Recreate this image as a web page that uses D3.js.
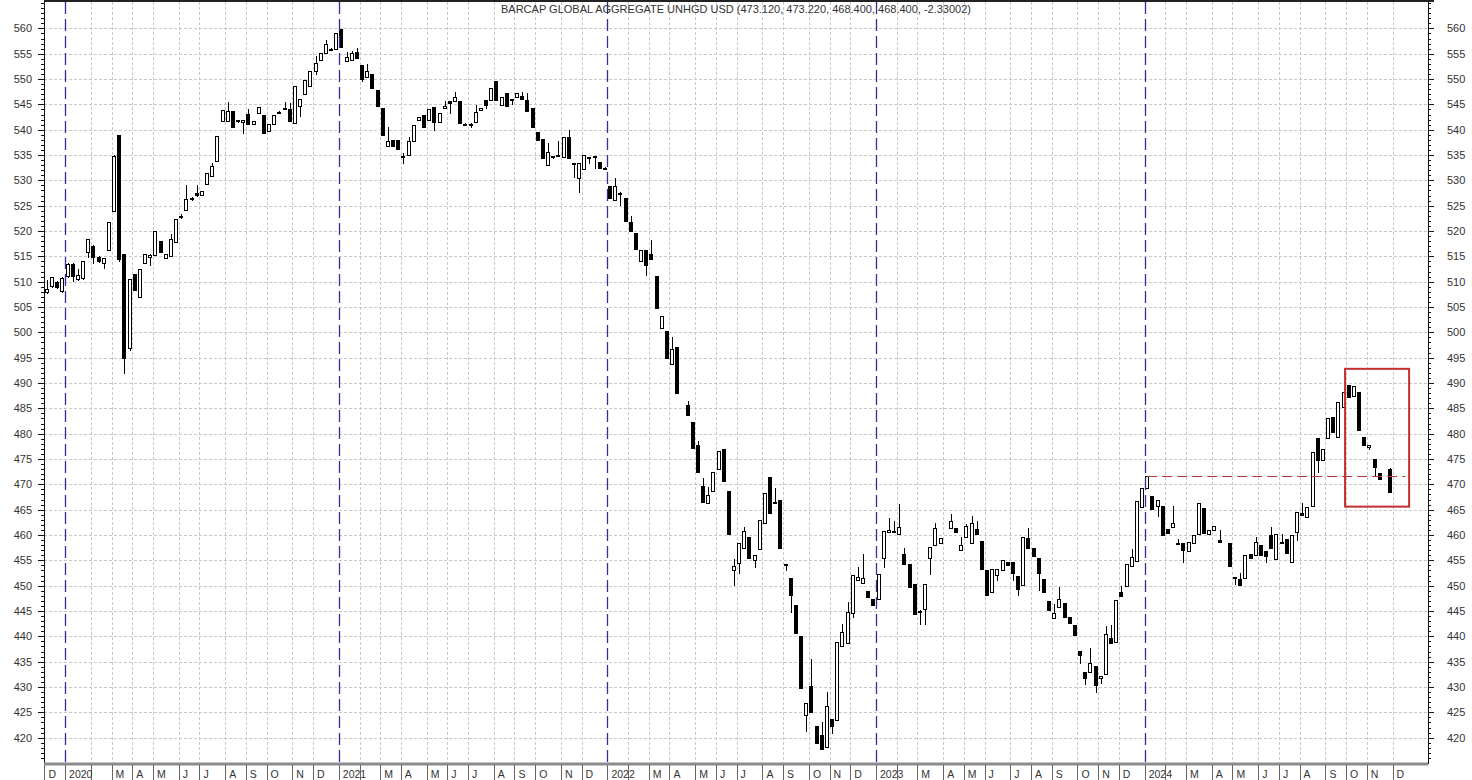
<!DOCTYPE html>
<html>
<head>
<meta charset="utf-8">
<title>Barcap Global Aggregate Unhgd USD - weekly</title>
<script src="https://cdnjs.cloudflare.com/ajax/libs/d3/7.8.5/d3.min.js"></script>
<style>
    body { margin: 0; background: #fff; }
    svg { display: block; font-family: Arial, "Liberation Sans", sans-serif; }
    .grid line { stroke: #c9c9c9; stroke-dasharray: 3,2; shape-rendering: crispEdges; }
    .year line { stroke: #2e2e9c; stroke-width: 1.3; stroke-dasharray: 12,5; }
    .axis text { font-size: 11px; fill: #333; }
    .axis path, .axis line { stroke: #111; shape-rendering: crispEdges; }
    .months text { font-size: 10.5px; fill: #333; }
    .months line { stroke: #666; shape-rendering: crispEdges; }
    .candle line { stroke: #000; shape-rendering: crispEdges; }
    .candle rect { stroke: #000; shape-rendering: crispEdges; }
</style>
</head>
<body>
<script>
    var title = "BARCAP GLOBAL AGGREGATE UNHGD USD (473.120, 473.220, 468.400, 468.400, -2.33002)";

    // weekly bars, [open, high, low, close]; null = no bar that week
    var firstWeek = new Date(2019, 11, 2);

    var ohlc2020 = [ // Dec 2019 - Dec 2020
        [507.9,510.4,507.8,508.6],[509.2,511.0,509.0,510.9],[510.0,510.2,508.8,508.9],[508.2,511.0,508.0,510.7],
        [511.1,513.6,511.0,513.5],[513.4,513.6,510.2,511.1],[510.5,512.5,510.3,511.3],[510.7,514.0,510.5,514.0],
        [515.9,518.5,514.8,518.4],[517.1,517.3,513.7,514.9],[514.9,515.0,513.8,514.1],[513.6,514.7,512.8,514.6],
        [516.3,521.7,516.3,521.7],[524.0,535.0,524.0,534.8],[539.0,539.0,514.0,514.4],[515.5,515.5,491.9,494.9],
        [497.0,510.5,496.5,510.5],[511.5,511.5,508.4,508.4],[507.0,512.6,507.0,512.6],[513.6,515.4,513.6,515.4],
        [514.8,515.4,513.3,515.3],[515.3,520.0,515.3,520.0],[518.1,518.1,515.9,515.9],[514.6,515.4,514.6,515.4],
        [515.1,519.4,515.1,518.4],[517.9,522.4,517.9,522.4],[522.9,523.3,522.5,522.7],[524.1,529.0,524.1,526.3],
        [526.6,526.8,526.1,526.3],[527.5,529.1,527.0,527.2],[527.2,527.9,527.2,527.9],[529.2,531.4,529.2,531.4],
        [530.9,533.5,530.9,532.8],[533.9,538.8,533.9,538.8],[541.8,543.9,541.8,543.9],[541.8,545.4,541.8,543.6],
        [543.6,543.6,540.5,540.5],[541.9,542.0,541.6,541.7],[541.6,541.9,539.3,541.9],[543.1,544.0,541.1,541.1],
        [541.1,541.8,541.1,541.8],[543.2,544.5,543.2,544.5],[542.9,542.9,539.3,539.3],[539.8,541.1,539.8,541.1],
        [541.1,543.0,541.1,543.0],[543.3,543.6,543.2,543.5],[544.1,545.5,544.0,544.3],[544.0,545.2,541.8,541.8],
        [541.4,548.7,541.4,548.7],[544.7,546.1,542.8,546.1],[547.0,549.9,547.0,549.9],[548.6,551.6,548.6,551.6],
        [551.6,554.5,551.0,553.2],[553.8,555.1,553.8,555.1],[555.2,557.7,555.2,556.9],[555.9,556.1,555.8,556.0],
        [555.9,559.0,555.9,559.0]
    ];

    var ohlc2021 = [
        [559.8,559.8,556.4,556.4],[553.5,555.3,553.5,554.4],[553.8,555.6,553.8,555.1],[555.3,556.1,554.1,554.1],
        [552.7,552.7,549.6,550.0],[550.5,553.0,550.5,551.6],[550.9,550.9,548.2,548.2],[547.9,547.9,544.6,544.6],
        [544.2,544.2,539.0,539.0],[536.7,540.6,536.7,537.8],[538.0,538.0,536.8,536.8],[538.0,538.0,536.2,536.2],
        [534.8,535.4,533.4,534.6],[535.0,538.6,535.0,537.7],[537.7,541.0,537.7,541.0],[542.0,542.6,542.0,542.6],
        [542.9,542.9,540.6,540.6],[542.0,544.1,542.0,544.1],[544.5,544.5,540.0,541.6],[541.6,543.3,541.6,543.3],
        [544.3,545.6,544.3,544.7],[545.7,545.7,543.3,545.2],[545.6,547.5,545.6,546.5],[545.7,545.7,541.3,541.3],
        [541.2,541.3,541.0,541.0],[541.0,541.3,540.6,541.2],[541.6,544.9,541.6,543.4],[543.8,544.3,543.8,544.3],
        [545.9,545.9,544.3,544.9],[545.9,548.2,545.9,548.2],[549.6,549.6,545.9,545.9],[544.9,546.4,544.9,546.4],
        [547.2,547.2,544.7,544.7],[545.9,546.0,545.0,546.0],[546.4,547.2,546.4,547.2],[546.7,547.5,546.0,546.0],
        [545.9,547.2,543.6,543.6],[544.2,544.2,540.5,540.5],[539.6,539.6,538.0,538.0],[538.1,538.1,534.4,534.4],
        [533.1,537.3,533.1,535.5],[534.6,534.9,534.5,534.8],[535.0,537.7,535.0,535.1],[534.7,538.5,534.7,538.5],
        [538.6,540.0,534.4,534.4],[533.3,533.5,530.6,533.5],[530.4,533.4,527.8,533.4],[532.2,535.0,532.2,535.0],
        [534.4,534.6,533.5,534.6],[534.8,534.8,532.4,534.7],[533.7,533.7,532.4,532.4],[532.5,532.6,532.3,532.3]
    ];

    var ohlc2022 = [
        [528.8,528.8,526.5,526.5],[526.1,530.4,526.1,528.8],[527.6,527.7,525.2,527.4],[526.5,526.5,521.9,521.9],
        [521.7,523.0,520.1,520.1],[519.7,519.7,516.4,516.4],[514.0,516.3,514.0,516.3],[516.3,516.3,511.3,513.3],
        [515.4,518.2,514.4,514.4],[511.2,511.2,504.8,504.8],[500.8,503.3,500.8,503.3],[500.2,500.2,494.9,494.9],
        [493.8,499.0,493.8,496.7],[497.2,497.2,488.1,488.1],null,[485.7,486.5,483.7,483.7],
        [482.3,482.3,477.1,477.1],[477.7,478.5,472.5,472.5],[469.7,471.2,466.6,466.6],[466.3,469.5,466.3,467.9],
        [468.7,472.5,468.7,472.5],[473.0,476.6,473.0,476.6],[476.9,476.9,470.7,470.7],[468.6,468.6,460.2,460.2],
        [453.0,455.2,450.2,453.8],[454.4,458.4,452.5,458.4],[457.4,461.5,457.4,460.7],[459.7,459.7,455.4,455.4],
        [455.1,456.1,453.6,456.1],[457.2,463.0,457.2,463.0],[462.3,468.3,462.3,468.3],[471.4,471.5,464.3,464.3],
        [466.5,469.3,466.3,466.3],[466.9,466.9,457.4,457.4],[454.2,454.3,453.0,454.0],[451.5,451.5,444.9,448.2],
        [446.1,446.1,440.6,440.6],[440.1,440.1,429.8,429.8],[424.5,426.8,421.3,426.8],[430.1,435.5,425.0,425.0],
        [422.4,422.4,419.0,419.0],[420.6,423.0,417.7,417.7],[418.2,429.0,418.2,426.3],[423.7,423.7,420.9,422.4],
        [423.4,438.8,423.4,438.8],[438.1,442.5,438.1,440.9],[438.6,446.7,438.6,444.9],[444.6,452.1,443.8,452.1],
        [451.1,453.7,451.1,451.8],[450.6,456.3,450.6,451.5],[449.0,449.0,447.7,447.7],[447.3,447.3,446.1,446.1]
    ];

    var ohlc2023 = [
        [447.3,452.3,447.3,452.3],[455.4,460.8,453.6,460.8],[460.5,463.4,460.5,460.9],[460.6,462.8,460.6,460.8],
        [460.2,466.2,460.2,461.5],[456.3,457.4,454.2,454.2],[454.2,454.2,449.8,449.8],[450.4,450.4,444.4,444.4],
        [445.0,445.2,442.4,444.8],[445.4,450.3,442.5,450.3],[455.4,457.7,452.4,457.7],[458.1,462.4,458.1,461.3],
        [458.4,459.4,458.4,459.4],null,[461.4,464.1,461.4,462.7],[461.4,461.4,460.5,460.5],
        [457.1,459.6,457.1,458.1],[459.7,462.2,459.7,461.7],[458.4,463.8,458.4,462.3],[461.2,462.7,460.2,460.2],
        [458.9,458.9,453.3,453.3],[453.0,453.0,448.2,448.2],[448.8,453.3,448.8,453.3],[452.1,453.3,451.2,453.3],
        [453.1,455.0,453.1,455.0],[454.6,454.6,454.1,454.1],[454.6,454.6,451.1,452.5],[452.0,452.0,448.1,449.3],
        [450.2,459.6,450.2,459.6],[459.4,461.4,457.4,457.4],[457.4,457.4,455.9,455.9],[455.4,455.4,449.2,452.5],
        [451.3,451.3,448.8,448.8],[446.9,446.9,445.2,445.2],[443.6,446.4,443.6,444.7],[445.7,449.7,445.7,447.4],
        [446.5,446.5,443.9,443.9],[443.9,443.9,442.7,442.7],[442.3,442.3,440.3,440.3],[437.2,437.2,434.7,436.3],
        [432.9,432.9,430.6,431.7],[433.0,437.6,433.0,434.7],[434.2,434.2,429.1,430.4],[431.7,432.2,430.7,432.2],
        [432.6,442.1,432.6,440.5],[439.6,442.2,438.6,438.6],[438.8,447.1,438.8,447.1],[448.7,449.9,448.0,448.0],
        [449.9,454.3,449.9,454.3],[453.9,457.3,453.9,455.7],[454.8,466.8,454.8,466.8],[465.6,469.2,465.6,469.2]
    ];

    var ohlc2024 = [
        [469.2,471.7,469.2,471.7],[467.7,467.7,465.1,465.1],[465.8,466.9,463.8,466.9],[465.8,465.8,460.0,460.0],
        [461.1,461.1,460.3,460.3],[461.5,465.8,461.5,462.3],[458.5,459.3,458.3,458.3],[458.5,458.5,454.6,457.1],
        [456.9,458.7,456.9,458.7],[458.4,460.1,458.4,460.1],[460.2,466.3,460.2,466.3],[465.3,465.3,460.3,460.3],
        [460.2,461.0,460.2,461.0],[460.9,461.8,460.9,461.8],[459.0,461.0,458.7,458.7],null,
        [458.5,458.5,453.9,453.9],[451.7,451.8,450.3,451.6],[451.3,452.5,450.2,450.2],[451.6,456.1,451.6,456.1],
        [456.3,456.3,455.4,455.4],[456.1,459.6,456.1,458.7],[458.0,458.0,456.1,456.1],[456.9,456.9,454.7,455.9],
        [460.0,461.6,457.4,457.4],[455.2,460.2,455.2,460.2],[458.7,460.2,458.5,458.5],[459.2,459.2,456.5,456.5],
        [454.6,460.0,454.6,460.0],[460.5,464.6,459.1,464.6],[464.4,466.3,464.0,464.0],[463.6,465.5,463.6,465.5],
        [465.8,476.3,465.8,476.3],[479.1,479.1,472.4,474.9],[474.9,477.0,474.9,477.0],[479.1,483.0,479.1,483.0],
        [483.2,483.2,480.4,480.4],[479.4,486.3,479.4,486.3],[485.2,488.3,485.2,488.3],[489.6,489.6,487.2,487.2],
        [487.4,489.4,487.4,489.4],[488.3,488.3,480.7,480.7],[479.3,479.3,477.8,477.8],[477.3,477.8,476.9,477.8],
        [475.0,475.0,471.7,473.4],[472.2,472.2,471.0,471.0],null,[473.12,473.22,468.4,468.4]
    ];

    var yTicks = d3.range(420, 561, 5);
    var monthLetters = ["J", "F", "M", "A", "M", "J", "J", "A", "S", "O", "N", "D"];

    // annotations, in bar index / price units
    var refBar = 213, refEnd = 263;          // dashed level from the first 2024 bar's close
    var boxSpan = [251.3, 263.7], boxRange = [465.6, 492.8];

    var width = 1472, height = 780,
        left = 44, right = 1428, plotBottom = 763;

    var bars = [].concat(ohlc2020, ohlc2021, ohlc2022, ohlc2023, ohlc2024).map(function(d, i){
        var b = {i: i, date: d3.timeMonday.offset(firstWeek, i)};
        if (d) { b.o = d[0]; b.h = d[1]; b.l = d[2]; b.c = d[3]; }
        return b;
    });

    var x = d3.scaleLinear().domain([0, bars.length - 1]).range([47, 1390]),
        y = d3.scaleLinear().domain([415, 565.6]).range([plotBottom, 0]),
        step = x(1) - x(0);

    // month boundaries: the week holding the month's first trading day
    var months = d3.timeMonth.range(new Date(2019, 11, 1), new Date(2025, 0, 1)).map(function(m){
        var d = new Date(m);
        while (d.getDay() === 0 || d.getDay() === 6 || (d.getMonth() === 0 && d.getDate() === 1)) {
            d = d3.timeDay.offset(d, 1);
        }
        var idx = d3.timeMonday.count(firstWeek, d);
        var mi = m.getMonth();
        return {
            x: Math.max(left, x(idx) - step / 2),
            label: mi === 0 ? String(m.getFullYear()) : (mi === 1 ? "" : monthLetters[mi]),
            year: mi === 0
        };
    });

    var svg = d3.select("body").append("svg")
        .attr("width", width)
        .attr("height", height);

    // grid
    var grid = svg.append("g").attr("class", "grid");
    grid.selectAll("line.h").data(yTicks).join("line")
        .attr("class", "h")
        .attr("x1", left).attr("x2", right)
        .attr("y1", function(d){ return Math.round(y(d)) + 0.5; })
        .attr("y2", function(d){ return Math.round(y(d)) + 0.5; });
    grid.selectAll("line.v").data(months.filter(function(m){ return !m.year && m.x > left; })).join("line")
        .attr("class", "v")
        .attr("x1", function(d){ return Math.round(d.x) + 0.5; })
        .attr("x2", function(d){ return Math.round(d.x) + 0.5; })
        .attr("y1", 2).attr("y2", plotBottom);

    // candles
    var candle = svg.append("g").attr("class", "candle")
        .selectAll("g").data(bars.filter(function(b){ return b.o != null; })).join("g");

    candle.append("line")
        .attr("x1", function(d){ return Math.round(x(d.i)) + 0.5; })
        .attr("x2", function(d){ return Math.round(x(d.i)) + 0.5; })
        .attr("y1", function(d){ return Math.round(y(d.h)); })
        .attr("y2", function(d){ return Math.round(y(d.l)) + 1; });

    candle.append("rect")
        .attr("x", function(d){ return Math.round(x(d.i)) - 1.5; })
        .attr("width", 3)
        .attr("y", function(d){ return Math.round(y(Math.max(d.o, d.c))) + 0.5; })
        .attr("height", function(d){
            return Math.max(1, Math.round(y(Math.min(d.o, d.c))) - Math.round(y(Math.max(d.o, d.c))));
        })
        .attr("fill", function(d){ return d.c >= d.o ? "#fff" : "#000"; });

    // year separators
    svg.append("g").attr("class", "year")
        .selectAll("line").data(months.filter(function(m){ return m.year; })).join("line")
        .attr("x1", function(d){ return Math.round(d.x) + 0.5; })
        .attr("x2", function(d){ return Math.round(d.x) + 0.5; })
        .attr("y1", 2).attr("y2", plotBottom);

    // reference level + box
    var refY = Math.round(y(bars[refBar].c)) + 0.5;
    svg.append("line")
        .attr("x1", x(refBar)).attr("x2", x(refEnd))
        .attr("y1", refY).attr("y2", refY)
        .attr("stroke", "#b23a3a").attr("stroke-width", 1)
        .attr("stroke-dasharray", "10,5");

    svg.append("rect")
        .attr("x", x(boxSpan[0])).attr("y", y(boxRange[1]))
        .attr("width", x(boxSpan[1]) - x(boxSpan[0]))
        .attr("height", y(boxRange[0]) - y(boxRange[1]))
        .attr("fill", "none")
        .attr("stroke", "#c3302f").attr("stroke-width", 2);

    // price axes
    var minor = d3.range(416, 566);
    renderAxis(d3.axisLeft, left);
    renderAxis(d3.axisRight, right);

    function renderAxis(axisFn, pos){
        svg.append("g").attr("class", "axis")
            .attr("transform", "translate(" + pos + ",0)")
            .call(axisFn(y).tickValues(minor).tickSize(3).tickSizeOuter(0).tickFormat(""));
        svg.append("g").attr("class", "axis")
            .attr("transform", "translate(" + pos + ",0)")
            .call(axisFn(y).tickValues(yTicks).tickSize(6).tickSizeOuter(0)
                .tickPadding(axisFn === d3.axisLeft ? 6 : 13));
    }

    // top border
    svg.append("line")
        .attr("x1", left).attr("x2", right + 6)
        .attr("y1", 1).attr("y2", 1)
        .attr("stroke", "#222").attr("stroke-width", 2);

    // time axis
    svg.append("line")
        .attr("x1", left).attr("x2", right)
        .attr("y1", plotBottom + 1).attr("y2", plotBottom + 1)
        .attr("stroke", "#8c8c8c").attr("stroke-width", 3);

    var mon = svg.append("g").attr("class", "months");
    mon.selectAll("line").data(months).join("line")
        .attr("x1", function(d){ return Math.round(d.x) + 0.5; })
        .attr("x2", function(d){ return Math.round(d.x) + 0.5; })
        .attr("y1", plotBottom + 2).attr("y2", height);
    mon.selectAll("text").data(months).join("text")
        .attr("x", function(d){ return d.x + 4; })
        .attr("y", 778)
        .text(function(d){ return d.label; });

    // title
    svg.append("text")
        .attr("x", (left + right) / 2)
        .attr("y", 13)
        .attr("text-anchor", "middle")
        .attr("font-size", "11px")
        .attr("fill", "#333")
        .text(title);
</script>
</body>
</html>
